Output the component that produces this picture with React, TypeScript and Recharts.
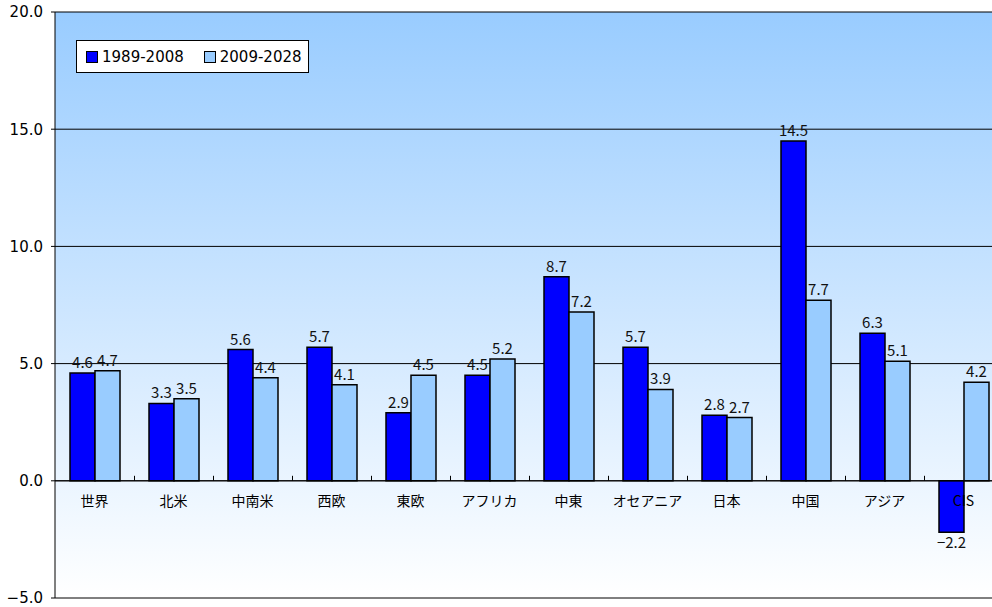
import React from 'react';
import {
  BarChart,
  Bar,
  XAxis,
  YAxis,
  CartesianGrid,
  ReferenceLine,
  LabelList,
} from 'recharts';

// 地域別の年平均成長率（%）
const REGIONS = ['世界', '北米', '中南米', '西欧', '東欧', 'アフリカ', '中東', 'オセアニア', '日本', '中国', 'アジア', 'CIS'];
const PAST = [4.6, 3.3, 5.6, 5.7, 2.9, 4.5, 8.7, 5.7, 2.8, 14.5, 6.3, -2.2];
const FUTURE = [4.7, 3.5, 4.4, 4.1, 4.5, 5.2, 7.2, 3.9, 2.7, 7.7, 5.1, 4.2];
const SERIES_NAMES = ['1989-2008', '2009-2028'];
const Y_TICKS = [-5, 0, 5, 10, 15, 20];

const data = REGIONS.map((name, i) => ({ name, past: PAST[i], future: FUTURE[i] }));

// チャートの寸法（プロット領域は画像の右端からはみ出している）
const W = 1005;
const H = 607;
const TOP = 12;
const LEFT = 55;
const RIGHT = 2;
const BOTTOM = 8;
const X_AXIS_H = 1;
const PLOT_H = H - TOP - BOTTOM - X_AXIS_H;
const PLOT_W = W - LEFT - RIGHT;
const BAND = PLOT_W / REGIONS.length;
const Y_MIN = -5;
const Y_MAX = 20;
const ZERO_Y = TOP + (PLOT_H * Y_MAX) / (Y_MAX - Y_MIN);

const fmt = (v: number) => v.toFixed(1).replace('-', '−');
const JP_FONT = '"Noto Sans CJK JP", "Noto Sans", sans-serif';

function CategoryTick({ x, payload }: any) {
  return (
    <text x={x} y={ZERO_Y + 25} textAnchor="middle" fontSize={14} fill="#000" fontFamily={JP_FONT}>
      {payload.value}
    </text>
  );
}

// カテゴリ境界の目盛り（ゼロ線から上向きの短い線）
function BoundaryStub(props: any) {
  const x = Math.round(props.x1 - BAND / 2) + 0.5;
  return <path d={`M${x},${ZERO_Y - 5}L${x},${ZERO_Y}`} stroke="#000" strokeWidth={1} fill="none" />;
}

function LegendBox() {
  const item = (color: string, label: string) => (
    <span style={{ display: 'inline-flex', alignItems: 'center', marginRight: 20 }}>
      <span
        style={{
          display: 'inline-block',
          width: 10,
          height: 10,
          background: color,
          border: '1px solid #000',
          marginRight: 4,
        }}
      />
      {label}
    </span>
  );
  return (
    <div
      style={{
        position: 'absolute',
        left: 76,
        top: 40,
        width: 222,
        height: 31,
        border: '1px solid #000',
        background: '#fff',
        display: 'flex',
        alignItems: 'center',
        paddingLeft: 9,
        fontFamily: '"DejaVu Sans", sans-serif',
        fontSize: 15,
        color: '#000',
        whiteSpace: 'nowrap',
      }}
    >
      {item('#0000ff', SERIES_NAMES[0])}
      {item('#99ccff', SERIES_NAMES[1])}
    </div>
  );
}

export default function App() {
  return (
    <div style={{ position: 'absolute', left: 0, top: 0, width: 992, height: 607, overflow: 'hidden', background: '#fff' }}>
      <BarChart
        width={W}
        height={H}
        data={data}
        margin={{ top: TOP, right: RIGHT, bottom: BOTTOM, left: 0 }}
        barGap={0}
        barSize={25}
      >
        <defs>
          <linearGradient id="plotBg" x1="0" y1="0" x2="0" y2="1">
            <stop offset="0%" stopColor="#99ccff" />
            <stop offset="100%" stopColor="#ffffff" />
          </linearGradient>
        </defs>
        <CartesianGrid vertical={false} stroke="#000" fill="url(#plotBg)" fillOpacity={1} />
        <XAxis
          dataKey="name"
          height={X_AXIS_H}
          axisLine={false}
          tickLine={false}
          interval={0}
          tick={<CategoryTick />}
        />
        <YAxis
          width={LEFT}
          domain={[Y_MIN, Y_MAX]}
          ticks={Y_TICKS}
          interval={0}
          tickFormatter={fmt}
          axisLine={{ stroke: '#000' }}
          tickLine={{ stroke: '#000' }}
          tickSize={4}
          tickMargin={8}
          tick={{ fill: '#000', fontSize: 15, fontFamily: '"DejaVu Sans", sans-serif' }}
        />
        <ReferenceLine y={0} stroke="#000" />
        {REGIONS.slice(1).map((r) => (
          <ReferenceLine key={r} x={r} stroke="#000" shape={<BoundaryStub />} />
        ))}
        <Bar dataKey="past" name={SERIES_NAMES[0]} fill="#0000ff" stroke="#000" strokeWidth={1.5} isAnimationActive={false}>
          <LabelList dataKey="past" position="top" offset={5} formatter={fmt} fill="#111" fontSize={15} fontFamily={JP_FONT} />
        </Bar>
        <Bar dataKey="future" name={SERIES_NAMES[1]} fill="#99ccff" stroke="#000" strokeWidth={1.5} isAnimationActive={false}>
          <LabelList dataKey="future" position="top" offset={5} formatter={fmt} fill="#111" fontSize={15} fontFamily={JP_FONT} />
        </Bar>
      </BarChart>
      <LegendBox />
    </div>
  );
}
